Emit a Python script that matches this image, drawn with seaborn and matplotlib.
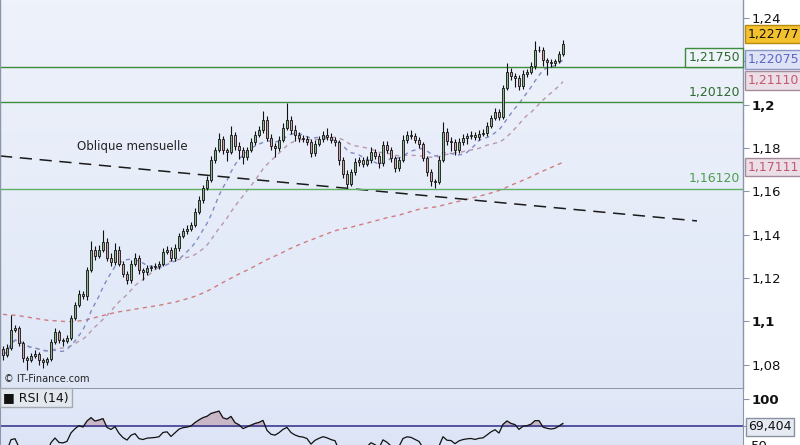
import numpy as np
import pandas as pd
import seaborn as sns
import matplotlib.pyplot as plt
import matplotlib.transforms as mtransforms
from matplotlib.colors import LinearSegmentedColormap

# cours de cloture (une bougie tous les ~4 px)
closes = [
    1.0844, 1.0876, 1.0960, 1.0969, 1.0899, 1.0830, 1.0821, 1.0839, 1.0849, 1.0821,
    1.0812, 1.0826, 1.0904, 1.0950, 1.0913, 1.0909, 1.0923, 1.1015, 1.1075, 1.1126,
    1.1116, 1.1237, 1.1329, 1.1301, 1.1329, 1.1366, 1.1292, 1.1273, 1.1329, 1.1264,
    1.1218, 1.1190, 1.1264, 1.1292, 1.1237, 1.1227, 1.1246, 1.1250, 1.1255, 1.1264,
    1.1320, 1.1329, 1.1292, 1.1338, 1.1393, 1.1417, 1.1426, 1.1444, 1.1504, 1.1560,
    1.1615, 1.1652, 1.1744, 1.1791, 1.1841, 1.1791, 1.1781, 1.1860, 1.1809, 1.1791,
    1.1758, 1.1791, 1.1828, 1.1860, 1.1883, 1.1929, 1.1846, 1.1809, 1.1800, 1.1837,
    1.1892, 1.1929, 1.1883, 1.1860, 1.1846, 1.1841, 1.1828, 1.1777, 1.1818, 1.1841,
    1.1860, 1.1851, 1.1837, 1.1828, 1.1744, 1.1680, 1.1634, 1.1689, 1.1735, 1.1744,
    1.1726, 1.1744, 1.1781, 1.1763, 1.1731, 1.1814, 1.1791, 1.1754, 1.1707, 1.1744,
    1.1837, 1.1860, 1.1855, 1.1837, 1.1818, 1.1754, 1.1689, 1.1647, 1.1643, 1.1744,
    1.1874, 1.1832, 1.1828, 1.1791, 1.1828, 1.1846, 1.1855, 1.1860, 1.1851, 1.1864,
    1.1869, 1.1901, 1.1938, 1.1966, 1.1943, 1.2077, 1.2151, 1.2132, 1.2123, 1.2086,
    1.2141, 1.2151, 1.2178, 1.2252, 1.2252, 1.2206, 1.2197, 1.2192, 1.2201, 1.2234,
    1.22777,
]
first_open = 1.0870
# meches hautes / basses en pips
wick_up = [
    15, 20, 70, 15, 10, 10, 10, 15, 20, 10, 10, 10, 15, 20, 10, 10, 15, 15, 15, 20,
    15, 15, 40, 20, 25, 55, 20, 25, 30, 20, 15, 15, 20, 25, 15, 10, 15, 10, 15, 15,
    20, 20, 15, 20, 15, 15, 20, 15, 20, 20, 15, 20, 20, 15, 30, 15, 10, 40, 15, 20,
    15, 15, 20, 20, 20, 40, 20, 20, 15, 20, 25, 80, 20, 25, 15, 15, 15, 15, 20, 15,
    20, 30, 20, 15, 10, 15, 20, 15, 20, 15, 15, 20, 25, 15, 15, 20, 20, 15, 10, 15,
    25, 20, 25, 15, 15, 10, 10, 15, 10, 20, 45, 20, 20, 15, 20, 20, 15, 20, 15, 20,
    20, 20, 15, 20, 15, 15, 40, 20, 15, 15, 20, 15, 20, 40, 20, 15, 10, 15, 10, 15,
    20,
]
wick_dn = [
    25, 10, 10, 10, 15, 20, 45, 10, 10, 25, 30, 15, 10, 10, 15, 25, 10, 10, 10, 10,
    15, 20, 10, 20, 10, 10, 15, 20, 15, 10, 15, 20, 15, 10, 20, 35, 15, 15, 10, 15,
    10, 10, 15, 15, 15, 10, 15, 10, 10, 10, 15, 10, 10, 15, 10, 20, 40, 10, 20, 40,
    30, 15, 10, 15, 10, 15, 15, 20, 40, 15, 10, 10, 20, 30, 20, 15, 15, 20, 15, 10,
    15, 15, 15, 20, 25, 20, 20, 10, 15, 20, 15, 10, 15, 15, 25, 15, 15, 20, 20, 15,
    10, 15, 15, 15, 20, 15, 20, 25, 30, 10, 10, 20, 40, 25, 15, 15, 30, 15, 15, 15,
    10, 15, 10, 10, 15, 10, 10, 20, 40, 20, 15, 15, 10, 15, 10, 30, 60, 20, 15, 10,
    10,
]

levels = [1.2175, 1.2012, 1.1612]
level_labels = ["1,21750", "1,20120", "1,16120"]
oblique_idx = [-0.75, 173.5]
oblique_price = [1.1763, 1.1463]
ma_long_seed = 1.1035
rsi_seed_gain = 0.0010   # moyennes de depart (hausse / baisse) avant la fenetre
rsi_seed_loss = 0.0014
last_price = 1.22777
ma_last = [1.22075, 1.21110, 1.17111]
rsi_last = 69.404
price_ticks = [1.08, 1.10, 1.12, 1.14, 1.16, 1.18, 1.20, 1.22, 1.24]

df = pd.DataFrame({"close": closes})
df["i"] = np.arange(len(df))
df["open"] = df["close"].shift(1).fillna(first_open)
df["high"] = df[["open", "close"]].max(axis=1) + np.array(wick_up) * 1e-4
df["low"] = df[["open", "close"]].min(axis=1) - np.array(wick_dn) * 1e-4
df["ma_short"] = df["close"].rolling(11, min_periods=1).mean()
df["ma_mid"] = df["close"].rolling(22, min_periods=1).mean()
seeded = pd.concat([pd.Series([ma_long_seed]), df["close"]], ignore_index=True)
df["ma_long"] = seeded.ewm(span=125, adjust=False).mean().iloc[1:].values

delta = df["close"].diff().fillna(df["close"].iloc[0] - first_open)
gain = pd.concat([pd.Series([rsi_seed_gain]), delta.clip(lower=0)], ignore_index=True)
loss = pd.concat([pd.Series([rsi_seed_loss]), (-delta).clip(lower=0)], ignore_index=True)
avg_gain = gain.ewm(alpha=1 / 14, adjust=False).mean().iloc[1:].values
avg_loss = loss.ewm(alpha=1 / 14, adjust=False).mean().iloc[1:].values
df["rsi"] = 100 - 100 / (1 + avg_gain / avg_loss)

sns.set_style("white")
plt.rcParams['font.family'] = ['DejaVu Sans']

fig = plt.figure(figsize=(8, 4.45), dpi=100)
fig.patch.set_facecolor("white")
ax = fig.add_axes([0, 56 / 445, 743 / 800, 389 / 445])
ax2 = fig.add_axes([0, 0, 743 / 800, 56 / 445], sharex=ax)

grad = np.linspace(0, 1, 100).reshape(-1, 1)
ax.imshow(grad, extent=[0, 1, 0, 1], transform=ax.transAxes,
          cmap=LinearSegmentedColormap.from_list("bg", ["#EEF2FB", "#DFE7F7"]),
          aspect="auto", zorder=0, origin="upper")
ax2.imshow(grad, extent=[0, 1, 0, 1], transform=ax2.transAxes,
           cmap=LinearSegmentedColormap.from_list("bg2", ["#E2E9F8", "#DCE4F6"]),
           aspect="auto", zorder=0, origin="upper")

# bougies
up = df["close"] >= df["open"]
body_col = np.where(up, "#8DB58C", "#CDA3A3")
ax.vlines(df["i"], df["low"], df["high"], color="#111111", lw=0.8, zorder=3)
ax.bar(df["i"], (df["close"] - df["open"]).abs().clip(lower=0.0002),
       bottom=df[["open", "close"]].min(axis=1), width=0.72,
       color=body_col, edgecolor="#111111", linewidth=0.6, zorder=4)

# moyennes mobiles
for col, c in [("ma_long", "#D07C80"), ("ma_mid", "#B898AC"), ("ma_short", "#7F8CC4")]:
    sns.lineplot(data=df, x="i", y=col, ax=ax, color=c, lw=1.0, zorder=2)
    ax.lines[-1].set_dashes((3, 3))

# oblique
ax.plot(oblique_idx, oblique_price, color="#1A1A1A", lw=1.1, dashes=(8, 5), zorder=2)
ax.text(18.5, 1.1792, "Oblique mensuelle", fontsize=8.5, color="#222222", zorder=5)

# niveaux
blend = mtransforms.blended_transform_factory(ax.transAxes, ax.transData)
level_cols = ["#3D8B3D", "#3D8B3D", "#63AF63"]
for lv, c in zip(levels, level_cols):
    ax.axhline(lv, color=c, lw=1.0, zorder=2)
ax.text(0.996, levels[0] + 0.0012, level_labels[0], transform=blend, ha="right", va="bottom",
        fontsize=9, color="#2E6B2E", zorder=6,
        bbox=dict(boxstyle="square,pad=0.25", fc="#EEF2FB", ec="#3D8B3D", lw=1))
ax.text(0.996, levels[1] + 0.0016, level_labels[1], transform=blend, ha="right", va="bottom",
        fontsize=9, color="#2E6B2E", zorder=6)
ax.text(0.996, levels[2] + 0.0016, level_labels[2], transform=blend, ha="right", va="bottom",
        fontsize=9, color="#4E9E4E", zorder=6)

ax.text(0.005, 0.012, "© IT-Finance.com", transform=ax.transAxes, fontsize=7,
        color="#222222", va="bottom", zorder=6)

# axe des prix
ax.set_xlim(-0.75, 185)
ax.set_ylim(1.0687, 1.2483)
ax.yaxis.tick_right()
ax.set_yticks(price_ticks)
# 1,22 est cache par les etiquettes des moyennes
ax.set_yticklabels(["" if t == 1.22 else f"{t:g}".replace(".", ",") for t in price_ticks])
for t, lab in zip(price_ticks, ax.get_yticklabels()):
    if t in (1.10, 1.20):
        lab.set_fontweight("bold")
ax.tick_params(axis="y", which="both", right=True, length=4, width=0.8, color="#8A96AA",
               labelsize=9.5, pad=2, labelcolor="#111111")
ax.tick_params(axis="x", bottom=False, labelbottom=False)
ax.set_xlabel("")
ax.set_ylabel("")
for s in ax.spines.values():
    s.set_color("#8A96AA")
    s.set_linewidth(1.0)
ax.spines["top"].set_visible(False)
ax.spines["bottom"].set_linewidth(1.4)

# etiquettes de derniere valeur
lab_x = 748 / 743
ax.annotate(f"{last_price:.5f}".replace(".", ","),
            xy=(lab_x, last_price), xycoords=blend, xytext=(0, 7.5), textcoords="offset points",
            ha="left", va="center", fontsize=9, color="#111111", zorder=7, annotation_clip=False,
            bbox=dict(boxstyle="square,pad=0.22", fc="#F3C12E", ec="#B98A10", lw=1))
ma_cols = [("#5D66C6", "#DEE2F6", "#8C94C4"), ("#C25A72", "#EBDEE6", "#A48C9C"),
           ("#C25A72", "#EBDEE6", "#A48C9C")]
for v, (tc, fc, ec) in zip(ma_last, ma_cols):
    ax.text(lab_x, v, f"{v:.5f}".replace(".", ","), transform=blend, ha="left", va="center",
            fontsize=9, color=tc, zorder=7, clip_on=False,
            bbox=dict(boxstyle="square,pad=0.22", fc=fc, ec=ec, lw=1))

# RSI
sns.lineplot(data=df, x="i", y="rsi", ax=ax2, color="#111111", lw=0.9, zorder=3)
ax2.fill_between(df["i"], 70, df["rsi"], where=df["rsi"] > 70, interpolate=True,
                 color="#C9B6C6", zorder=2)
ax2.axhline(70, color="#3B3B8F", lw=1.2, zorder=2)
ax2.set_ylim(52.4, 110.3)
ax2.yaxis.tick_right()
ax2.set_yticks([50, 70, 100])
ax2.set_yticklabels(["50", "", "100"])
ax2.get_yticklabels()[2].set_fontweight("bold")
ax2.tick_params(axis="y", right=True, length=4, width=0.8, color="#8A96AA",
                labelsize=9.5, pad=2, labelcolor="#111111")
ax2.tick_params(axis="x", bottom=False, labelbottom=False)
ax2.set_xlabel("")
ax2.set_ylabel("")
for s in ax2.spines.values():
    s.set_color("#8A96AA")
ax2.spines["top"].set_visible(False)
ax2.spines["bottom"].set_visible(False)
blend2 = mtransforms.blended_transform_factory(ax2.transAxes, ax2.transData)
ax2.text(lab_x, rsi_last, f"{rsi_last:.3f}".replace(".", ","), transform=blend2, ha="left",
         va="center", fontsize=9, color="#111111", zorder=7, clip_on=False,
         bbox=dict(boxstyle="square,pad=0.2", fc="#E6EAF2", ec="#8A92A2", lw=1))
ax2.text(0.004, 0.96, "■ RSI (14)", transform=ax2.transAxes, ha="left", va="top",
         fontsize=9, color="#111111", zorder=7,
         bbox=dict(boxstyle="square,pad=0.25", fc="#E3E7EE", ec="#A3AAB4", lw=1))

fig.savefig("out.png", dpi=100, facecolor="white")
